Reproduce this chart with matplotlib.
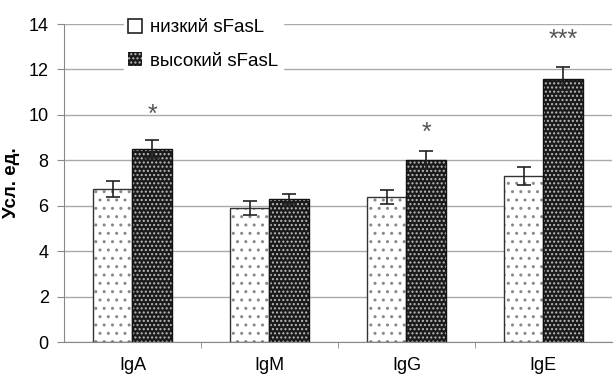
import numpy as np
import matplotlib.pyplot as plt
from matplotlib.patches import Patch

plt.rcParams['font.family'] = ['Liberation Sans', 'DejaVu Sans']
plt.rcParams['hatch.linewidth'] = 1.0

categories = ['IgA', 'IgM', 'IgG', 'IgE']
low = [6.75, 5.9, 6.4, 7.3]
low_err = [0.35, 0.3, 0.3, 0.4]
high = [8.5, 6.3, 8.0, 11.6]
high_err = [0.4, 0.2, 0.4, 0.5]
stars = ['*', '', '*', '***']
star_y = [10.0, 0, 9.2, 13.3]

fig = plt.figure(figsize=(6.15, 3.81), dpi=100)
ax = fig.add_axes([0.104, 0.102, 0.891, 0.835])

x = np.arange(len(categories))
w = 0.29

# светлые столбцы
ax.bar(x - w / 2, low, w, color='white', edgecolor='#888888', hatch='..', linewidth=0, zorder=2)
ax.bar(x - w / 2, low, w, fill=False, edgecolor='#333333', linewidth=1.0, zorder=3)
# тёмные столбцы
ax.bar(x + w / 2, high, w, color='#1a1a1a', edgecolor='#bbbbbb', hatch='....', linewidth=0, zorder=2)
ax.bar(x + w / 2, high, w, fill=False, edgecolor='#111111', linewidth=1.0, zorder=3)

ax.errorbar(x - w / 2, low, yerr=low_err, fmt='none', ecolor='#222222', capsize=5, elinewidth=1.2, capthick=1.2, zorder=4)
ax.errorbar(x + w / 2, high, yerr=high_err, fmt='none', ecolor='#222222', capsize=5, elinewidth=1.2, capthick=1.2, zorder=4)

for xi, s, yy in zip(x, stars, star_y):
    if s:
        ax.text(xi + w / 2, yy, s, ha='center', va='center', fontsize=18, color='#555555')

ax.set_xlim(-0.5, 3.5)
ax.set_ylim(0, 14)
ax.set_yticks(np.arange(0, 15, 2))
ax.set_xticks(x)
ax.set_xticklabels(categories)
ax.set_xticks(np.arange(0.5, 3.5, 1), minor=True)
ax.tick_params(axis='x', which='major', length=0, pad=11, labelsize=13)
ax.tick_params(axis='x', which='minor', length=4, color='#888888', direction='out')
ax.tick_params(axis='y', length=5, color='#888888', labelsize=13, pad=6)
ax.grid(axis='y', color='#aaaaaa', linewidth=1.0, zorder=0)
ax.set_axisbelow(True)
for s in ['top', 'right']:
    ax.spines[s].set_visible(False)
ax.spines['left'].set_color('#888888')
ax.spines['bottom'].set_color('#888888')
ax.set_ylabel('Усл. ед.', fontsize=13.5, fontweight='bold', labelpad=6)

handles = [Patch(facecolor='white', edgecolor='#222222', linewidth=1.2),
           Patch(facecolor='#1a1a1a', edgecolor='#bbbbbb', hatch='....', linewidth=0)]
leg = ax.legend(handles, ['низкий sFasL', 'высокий sFasL'], loc='upper left',
                bbox_to_anchor=(0.092, 1.06), frameon=True, fancybox=False, edgecolor='white',
                framealpha=1, fontsize=13.5, handlelength=0.75, handleheight=0.75,
                handletextpad=0.4, labelspacing=0.85, borderpad=0.25)

fig.savefig('out.png', dpi=100)
